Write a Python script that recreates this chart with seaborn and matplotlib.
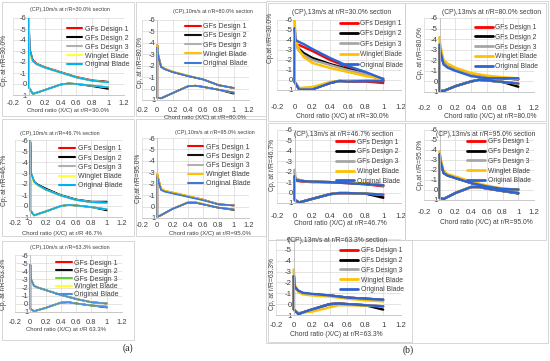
import numpy as np
import pandas as pd
import matplotlib
matplotlib.use("Agg")
import matplotlib.pyplot as plt
import seaborn as sns
from matplotlib.lines import Line2D
from matplotlib.patches import Rectangle

sns.set_theme(style="white")
plt.rcParams['font.family'] = ['Liberation Sans Narrow', 'Liberation Sans', 'DejaVu Sans']

W, H = 550, 361

SERIES = ["GFs Design 1", "GFs Design 2", "GFs Design 3", "Winglet Blade", "Original Blade"]

# chord stations (x/c) for suction side and pressure side
X_UP = [0.0, 0.01, 0.05, 0.1, 0.2, 0.4, 0.6, 0.8, 1.0]
X_LO = [0.0, 0.05, 0.2, 0.4, 0.5, 0.6, 0.8, 1.0]

# ---------------- (a) 10 m/s ----------------
# r/R = 30.0%
a1_up = [
    [-5.8, -3.2, -2.2, -1.85, -1.55, -1.1, -0.65, -0.35, -0.2],
    [-5.8, -3.1, -2.1, -1.8, -1.5, -1.05, -0.6, -0.3, -0.2],
    [-5.8, -3.1, -2.1, -1.8, -1.5, -1.05, -0.6, -0.3, -0.15],
    [-2.5, -2.6, -2.1, -1.8, -1.5, -1.05, -0.6, -0.3, -0.15],
    [-6.0, -3.1, -2.1, -1.8, -1.5, -1.05, -0.6, -0.3, -0.15],
]
a1_lo = [
    [0.3, 0.9, 0.55, 0.05, -0.05, 0.0, 0.15, 0.3],
    [0.3, 0.9, 0.55, 0.05, -0.05, 0.0, 0.2, 0.45],
    [0.3, 0.9, 0.55, 0.05, -0.05, 0.0, 0.15, 0.3],
    [0.3, 0.9, 0.55, 0.05, -0.05, 0.0, 0.15, 0.3],
    [0.3, 0.9, 0.55, 0.05, -0.05, 0.0, 0.15, 0.3],
]
# r/R = 80.0%
a2_up = [
    [-3.8, -3.0, -1.9, -1.7, -1.45, -1.1, -0.8, -0.3, -0.05],
    [-3.8, -3.0, -1.9, -1.7, -1.45, -1.1, -0.8, -0.3, -0.05],
    [-3.7, -3.0, -1.9, -1.7, -1.45, -1.1, -0.8, -0.3, -0.05],
    [-3.8, -3.0, -1.95, -1.75, -1.5, -1.15, -0.8, -0.3, -0.05],
    [-3.6, -2.9, -1.9, -1.7, -1.45, -1.1, -0.8, -0.3, -0.05],
]
a2_lo = [
    [0.8, 0.85, 0.4, -0.2, -0.25, -0.15, 0.1, 0.35],
    [0.8, 0.85, 0.4, -0.2, -0.25, -0.15, 0.1, 0.45],
    [0.8, 0.85, 0.4, -0.2, -0.25, -0.15, 0.1, 0.35],
    [0.8, 0.85, 0.4, -0.2, -0.25, -0.15, 0.1, 0.35],
    [0.8, 0.85, 0.4, -0.2, -0.25, -0.15, 0.1, 0.35],
]
# r/R = 46.7%
a3_up = [
    [-5.8, -3.0, -2.2, -1.9, -1.5, -0.95, -0.55, -0.35, -0.3],
    [-5.8, -2.9, -2.2, -1.95, -1.6, -1.0, -0.6, -0.4, -0.4],
    [-5.8, -3.0, -2.2, -1.9, -1.5, -0.95, -0.55, -0.35, -0.3],
    [-2.8, -2.6, -2.1, -1.85, -1.5, -0.95, -0.55, -0.35, -0.3],
    [-6.0, -3.0, -2.2, -1.9, -1.5, -0.95, -0.55, -0.35, -0.3],
]
a3_lo = [
    [0.4, 0.85, 0.5, 0.0, -0.1, -0.05, 0.1, 0.3],
    [0.4, 0.85, 0.5, 0.0, -0.1, -0.05, 0.1, 0.4],
    [0.4, 0.85, 0.5, 0.0, -0.1, -0.05, 0.1, 0.3],
    [0.4, 0.85, 0.5, 0.0, -0.1, -0.05, 0.1, 0.3],
    [0.4, 0.85, 0.5, 0.0, -0.1, -0.05, 0.1, 0.3],
]
# r/R = 95.0%
a4_up = [
    [-2.8, -2.5, -1.5, -1.35, -1.2, -0.9, -0.6, -0.2, -0.1],
    [-2.8, -2.5, -1.5, -1.35, -1.2, -0.9, -0.6, -0.2, -0.1],
    [-2.7, -2.4, -1.5, -1.35, -1.2, -0.9, -0.6, -0.2, -0.1],
    [-2.9, -2.6, -1.6, -1.4, -1.25, -0.95, -0.6, -0.2, -0.1],
    [-2.6, -2.3, -1.45, -1.3, -1.15, -0.85, -0.55, -0.2, -0.1],
]
a4_lo = [
    [0.9, 0.75, 0.2, -0.35, -0.35, -0.2, 0.1, 0.25],
    [0.9, 0.75, 0.2, -0.35, -0.35, -0.2, 0.1, 0.3],
    [0.9, 0.75, 0.2, -0.35, -0.35, -0.2, 0.1, 0.25],
    [0.9, 0.75, 0.2, -0.4, -0.4, -0.25, 0.1, 0.25],
    [0.9, 0.75, 0.2, -0.35, -0.35, -0.2, 0.1, 0.25],
]
# r/R = 63.3%
a5_up = [
    [-4.8, -3.0, -2.2, -2.0, -1.7, -1.1, -0.6, -0.2, -0.05],
    [-4.8, -3.0, -2.2, -2.0, -1.7, -1.1, -0.6, -0.2, -0.05],
    [-4.8, -3.0, -2.2, -2.0, -1.7, -1.1, -0.6, -0.2, -0.05],
    [-4.6, -3.0, -2.2, -2.0, -1.7, -1.1, -0.6, -0.2, -0.05],
    [-4.8, -3.0, -2.2, -2.0, -1.7, -1.1, -0.6, -0.2, -0.05],
]
a5_lo = [
    [0.6, 0.9, 0.5, -0.15, -0.2, -0.05, 0.2, 0.35],
    [0.6, 0.9, 0.5, -0.15, -0.2, -0.05, 0.2, 0.45],
    [0.6, 0.9, 0.5, -0.15, -0.2, -0.05, 0.2, 0.35],
    [0.6, 0.9, 0.5, -0.15, -0.2, -0.05, 0.2, 0.35],
    [0.6, 0.9, 0.5, -0.15, -0.2, -0.05, 0.2, 0.35],
]

# ---------------- (b) 13 m/s ----------------
# r/R = 30.0%
b1_up = [
    [-3.5, -3.5, -3.5, -3.3, -2.9, -2.0, -1.3, -0.7, 0.1],
    [-3.8, -3.6, -3.1, -2.7, -2.2, -1.6, -1.1, -0.6, -0.1],
    [-3.8, -3.5, -2.9, -2.5, -2.0, -1.5, -1.0, -0.6, -0.1],
    [-6.0, -4.0, -3.0, -2.3, -1.7, -1.2, -0.8, -0.4, -0.1],
    [-5.2, -4.0, -3.8, -3.6, -3.1, -2.2, -1.4, -0.8, -0.1],
]
b1_lo = [
    [0.2, 0.9, 0.9, 0.3, 0.1, 0.15, 0.15, 0.3],
    [0.2, 0.9, 0.9, 0.3, 0.1, 0.1, 0.1, 0.1],
    [0.2, 0.9, 0.9, 0.3, 0.1, 0.1, 0.1, 0.1],
    [0.2, 0.8, 0.7, 0.2, 0.1, 0.1, 0.05, 0.0],
    [0.2, 0.95, 0.95, 0.3, 0.1, 0.15, 0.1, 0.1],
]
# r/R = 80.0%
b2_up = [
    [-3.2, -2.6, -1.7, -1.4, -1.1, -0.6, -0.35, -0.3, -0.2],
    [-3.2, -2.6, -1.7, -1.4, -1.1, -0.6, -0.35, -0.3, -0.2],
    [-3.2, -2.6, -1.7, -1.4, -1.1, -0.6, -0.35, -0.3, -0.2],
    [-4.2, -3.3, -2.0, -1.7, -1.3, -0.8, -0.55, -0.4, -0.3],
    [-3.5, -2.8, -1.6, -1.3, -1.0, -0.5, -0.3, -0.3, -0.3],
]
b2_lo = [
    [0.9, 0.9, 0.45, 0.0, -0.15, -0.1, 0.05, 0.2],
    [0.9, 0.9, 0.45, 0.0, -0.15, -0.1, 0.05, 0.5],
    [0.9, 0.9, 0.45, 0.0, -0.15, -0.1, 0.05, 0.2],
    [0.9, 0.9, 0.45, 0.0, -0.15, -0.1, 0.05, 0.2],
    [0.9, 0.9, 0.45, 0.0, -0.15, -0.1, 0.05, 0.2],
]
# r/R = 46.7%
b3_up = [
    [-1.5, -1.2, -1.1, -1.05, -1.0, -1.0, -0.9, -0.8, -0.6],
    [-1.5, -1.3, -1.2, -1.1, -1.05, -1.0, -0.95, -0.85, -0.7],
    [-2.2, -1.3, -1.2, -1.1, -1.05, -1.0, -0.95, -0.85, -0.7],
    [-1.6, -1.3, -1.2, -1.1, -1.05, -1.0, -0.95, -0.85, -0.7],
    [-1.6, -1.2, -1.15, -1.1, -1.05, -1.0, -0.9, -0.8, -0.7],
]
b3_lo = [
    [0.7, 0.95, 0.6, 0.15, 0.05, 0.05, 0.1, 0.35],
    [0.7, 0.95, 0.6, 0.15, 0.05, 0.05, 0.1, 0.5],
    [0.7, 0.95, 0.6, 0.15, 0.05, 0.05, 0.1, 0.2],
    [0.7, 0.95, 0.6, 0.15, 0.05, 0.05, 0.1, 0.2],
    [0.7, 0.95, 0.6, 0.15, 0.05, 0.05, 0.1, 0.2],
]
# r/R = 95.0%
b4_up = [
    [-3.4, -2.8, -1.7, -1.45, -1.2, -0.7, -0.35, -0.1, -0.05],
    [-3.4, -2.8, -1.7, -1.45, -1.2, -0.7, -0.35, -0.1, -0.05],
    [-3.4, -2.8, -1.7, -1.45, -1.2, -0.7, -0.35, -0.1, -0.05],
    [-3.9, -3.2, -1.9, -1.6, -1.35, -0.85, -0.45, -0.15, -0.05],
    [-3.6, -2.9, -1.7, -1.45, -1.2, -0.7, -0.35, -0.1, -0.05],
]
b4_lo = [
    [0.8, 0.9, 0.3, -0.3, -0.3, -0.15, 0.1, 0.3],
    [0.8, 0.9, 0.3, -0.3, -0.3, -0.15, 0.1, 0.35],
    [0.8, 0.9, 0.3, -0.3, -0.3, -0.15, 0.1, 0.3],
    [0.8, 0.9, 0.3, -0.3, -0.3, -0.15, 0.1, 0.3],
    [0.8, 0.9, 0.3, -0.3, -0.3, -0.15, 0.1, 0.3],
]
# r/R = 63.3%
b5_up = [
    [-2.6, -1.6, -1.2, -1.0, -0.9, -0.8, -0.6, -0.5, -0.4],
    [-2.6, -1.6, -1.2, -1.0, -0.9, -0.8, -0.6, -0.5, -0.4],
    [-2.6, -1.6, -1.2, -1.0, -0.9, -0.8, -0.6, -0.5, -0.4],
    [-3.2, -1.8, -1.1, -0.9, -0.8, -0.7, -0.5, -0.35, -0.25],
    [-2.6, -1.6, -1.25, -1.05, -0.95, -0.8, -0.6, -0.5, -0.4],
]
b5_lo = [
    [0.5, 0.9, 0.5, 0.0, -0.05, 0.0, 0.1, 0.2],
    [0.5, 0.9, 0.5, 0.0, -0.05, 0.0, 0.1, 0.5],
    [0.5, 0.9, 0.5, 0.0, -0.05, 0.0, 0.1, 0.2],
    [0.5, 0.8, 0.7, 0.3, 0.1, 0.1, 0.15, 0.2],
    [0.5, 0.9, 0.5, 0.0, -0.05, 0.0, 0.1, 0.2],
]

# colours
COL_A_CYAN = ["#ff0000", "#000000", "#b0b0b0", "#ffff33", "#00b0f0"]
COL_A_GOLD = ["#ff0000", "#111111", "#b0b0b0", "#ffc000", "#3c78d8"]
COL_A_GREEN = ["#ff0000", "#111111", "#66cc33", "#ffff33", "#4a90e2"]
COL_B = ["#ff0000", "#000000", "#a6a6a6", "#ffc000", "#2e64d0"]

# layout, in pixels: plot area (x=-0.2 .. 1.2, y=-6 .. 1), title, labels; legend anchor in axes units
panels = [
    dict(up=a1_up, lo=a1_lo, col=COL_A_CYAN, big=False, area=(13, 124, 18, 95), leg=(1.05, 0.90), ls=0.28,
         title="(CP),10m/s at r/R=30.0% section", tpos=(70, 10),
         ylab="Cp, at r/R=30.0%", ypos=(5, 60), xlab="Chord ratio (X/C) at r/R=30.0%", xpos=(68, 111), tick_y=103),
    dict(up=a2_up, lo=a2_lo, col=COL_A_GOLD, big=False, area=(142, 249, 20, 100), leg=(0.99, 0.96), ls=0.32,
         title="(CP),10m/s at r/R=80.0% section", tpos=(213, 11),
         ylab="Cp, at r/R=80.0%", ypos=(141, 62), xlab="Chord ratio (X/C) at r/R=80.0%", xpos=(205, 117), tick_y=110),
    dict(up=a3_up, lo=a3_lo, col=COL_A_CYAN, big=False, area=(15, 122, 140, 217), leg=(1.0, 0.93), ls=0.32,
         title="(CP),10m/s at r/R=46.7% section", tpos=(60, 133),
         ylab="Cp, at r/R=46.7%", ypos=(5, 180), xlab="Chord ratio (X/C) at r/R 46.7%", xpos=(62, 233), tick_y=223),
    dict(up=a4_up, lo=a4_lo, col=COL_A_GOLD, big=False, area=(142, 249, 138, 218), leg=(1.01, 0.93), ls=0.32,
         title="(CP),10m/s at r/R=95.0% section", tpos=(215, 132),
         ylab="Cp,at r/R=95.0%", ypos=(139, 178), xlab="Chord ratio (X/C) at r/R=95.0%", xpos=(210, 233), tick_y=225),
    dict(up=a5_up, lo=a5_lo, col=COL_A_GREEN, big=False, area=(15, 122, 255, 312), leg=(0.97, 0.92), ls=0.14,
         title="(CP),10m/s at r/R=63.3% section", tpos=(70, 247),
         ylab="Cp, at r/R=63.3%", ypos=(4, 284), xlab="Chord ratio (X/C) at r/R 63.3%", xpos=(66, 330), tick_y=322),
    dict(up=b1_up, lo=b1_lo, col=COL_B, big=True, area=(277, 401, 20, 90), leg=(1.02, 1.0), ls=0.5,
         title="(CP),13m/s at r/R=30.0% section", tpos=(342, 12),
         ylab="Cp,at r/R=30.0%", ypos=(271, 38), xlab="Chord ratio (X/C) at r/R=30.0%", xpos=(342, 116), tick_y=107),
    dict(up=b2_up, lo=b2_lo, col=COL_B, big=True, area=(424, 534, 18, 92), leg=(1.04, 0.92), ls=0.42,
         title="(CP),13m/s at r/R=80.0% section", tpos=(492, 13),
         ylab="Cp, at r/R=80.0%", ypos=(420, 53), xlab="Chord ratio (X/C) at r/R=80.0%", xpos=(490, 117), tick_y=108),
    dict(up=b3_up, lo=b3_lo, col=COL_B, big=True, area=(277, 401, 130, 203), leg=(0.99, 0.88), ls=0.4,
         title="(CP),13m/s at r/R=46.7% section", tpos=(344, 135),
         ylab="Cp, at r/R=46.7%", ypos=(273, 165), xlab="Chord ratio (X/C) at r/R=46.7%", xpos=(340, 224), tick_y=216),
    dict(up=b4_up, lo=b4_lo, col=COL_B, big=True, area=(424, 534, 130, 200), leg=(0.97, 0.88), ls=0.4,
         title="(CP),13m/s at r/R=95.0% section", tpos=(486, 135),
         ylab="Cp,at r/R=95.0%", ypos=(420, 165), xlab="Chord ratio (X/C) at r/R=95.0%", xpos=(486, 222), tick_y=212),
    dict(up=b5_up, lo=b5_lo, col=COL_B, big=True, area=(276, 401, 239, 315), leg=(1.02, 0.89), ls=0.4,
         title="(CP),13m/s at r/R=63.3% section", tpos=(338, 240),
         ylab="Cp, at r/R=63.3%", ypos=(272, 284), xlab="Chord ratio (X/C) at r/R=63.3%", xpos=(336, 334), tick_y=325),
]

# chart-area frames (pixels: x0, y0, x1, y1)
frames = [(2, 2, 134, 116), (136, 2, 266, 116), (2, 119, 134, 236), (136, 119, 266, 236),
          (2, 241, 134, 340), (266, 1, 548, 343), (268, 3, 405, 121), (405, 3, 546, 121),
          (268, 123, 405, 240), (405, 123, 546, 240), (268, 240, 412, 342)]

fig = plt.figure(figsize=(W / 100, H / 100), dpi=100)
fig.patch.set_facecolor("white")

for x0, y0, x1, y1 in frames:
    fig.add_artist(Rectangle((x0 / W, 1 - y1 / H), (x1 - x0) / W, (y1 - y0) / H,
                             transform=fig.transFigure, fill=False, ec="#d0d0d0", lw=0.6))

xticks = [-0.2, 0, 0.2, 0.4, 0.6, 0.8, 1, 1.2]
xtick_labels = ["-0.2", "0", "0.2", "0.4", "0.6", "0.8", "1", "1.2"]
yticks = [-6, -5, -4, -3, -2, -1, 0, 1]

for p in panels:
    l, r, t, b = p["area"]
    ax = fig.add_axes([l / W, 1 - b / H, (r - l) / W, (b - t) / H])
    big = p["big"]
    fs_tick = 5.6 if big else 5.4
    fs_leg = 4.9 if big else 5.0
    fs_title = 4.9 if big else 3.9
    fs_xlab = 4.9 if big else 4.3
    fs_ylab = 4.9 if big else 4.8
    lw = 1.7 if big else 1.2

    rows = []
    for name, up, lo in zip(SERIES, p["up"], p["lo"]):
        xs = X_UP[::-1] + X_LO
        ys = up[::-1] + lo
        for xv, yv in zip(xs, ys):
            rows.append({"x": xv, "cp": yv, "series": name})
    df = pd.DataFrame(rows)
    sns.lineplot(data=df, x="x", y="cp", hue="series", hue_order=SERIES,
                 palette=p["col"], sort=False, estimator=None, linewidth=lw,
                 legend=False, ax=ax)

    ax.set_xlim(-0.2, 1.2)
    ax.set_ylim(1, -6)
    ax.set_xticks(xticks)
    ax.set_xticklabels(xtick_labels)
    ax.set_yticks(yticks)
    ax.set_yticklabels([str(v) for v in yticks])
    ax.set_xlabel("")
    ax.set_ylabel("")
    ax.grid(True, color="#d9d9d9", lw=0.5)
    ax.set_axisbelow(True)
    for s in ["top", "right"]:
        ax.spines[s].set_visible(False)
    ax.spines["left"].set_position(("data", 0))
    ax.spines["left"].set_color("#bfbfbf")
    ax.spines["left"].set_linewidth(0.6)
    ax.spines["bottom"].set_color("#bfbfbf")
    ax.spines["bottom"].set_linewidth(0.6)
    pad_px = p["tick_y"] - b - fs_tick * 0.6
    ax.tick_params(axis="x", length=0, pad=max(pad_px, 1) * 0.72, labelsize=fs_tick, colors="#404040")
    ax.tick_params(axis="y", length=0, pad=1.5, labelsize=fs_tick, colors="#404040")
    ax.set_facecolor("none")

    handles = [Line2D([], [], color=c, lw=lw + 0.3) for c in p["col"]]
    ax.legend(handles, SERIES, loc="upper right", bbox_to_anchor=p["leg"],
              frameon=False, fontsize=fs_leg, handlelength=2.6 if big else 2.2, handletextpad=0.4,
              labelspacing=p["ls"], borderaxespad=0, borderpad=0,
              labelcolor="#404040")

    fig.text(p["tpos"][0] / W, 1 - p["tpos"][1] / H, p["title"], ha="center", va="center",
             fontsize=fs_title, color="#404040")
    fig.text(p["ypos"][0] / W, 1 - p["ypos"][1] / H, p["ylab"], ha="center", va="center",
             rotation=90, fontsize=fs_ylab, color="#404040")
    fig.text(p["xpos"][0] / W, 1 - p["xpos"][1] / H, p["xlab"], ha="center", va="center",
             fontsize=fs_xlab, color="#404040")

fig.text(128 / W, 1 - 348 / H, "(a)", ha="center", va="center", fontsize=7, family="Liberation Serif")
fig.text(408 / W, 1 - 350 / H, "(b)", ha="center", va="center", fontsize=7, family="Liberation Serif")

fig.savefig("out.png", dpi=100)
